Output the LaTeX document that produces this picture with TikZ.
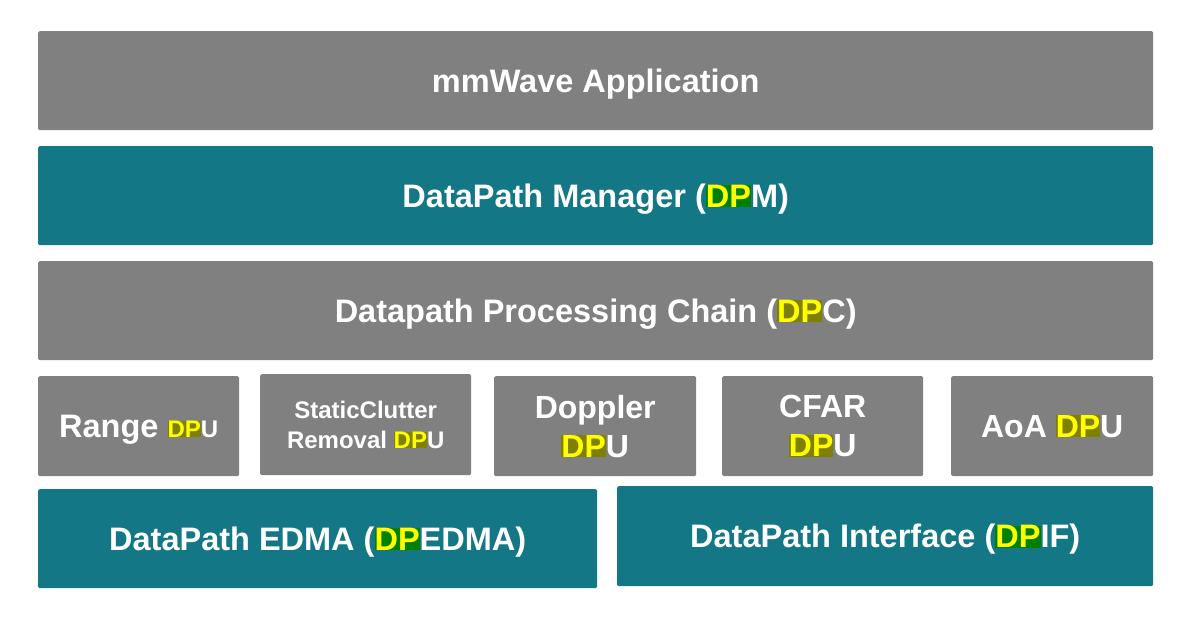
\documentclass[tikz,border=0pt]{standalone}
\usepackage{fontspec}
\setmainfont{Liberation Sans}
\usetikzlibrary{positioning}

\definecolor{layergray}{HTML}{808080}
\definecolor{layerteal}{HTML}{137786}
\definecolor{dpyellow}{HTML}{FFFF00}
\definecolor{dpgreen}{HTML}{008000}
\definecolor{dpolive}{HTML}{808000}

% highlighted "DP" on teal and on gray boxes
\newcommand{\dpT}{{\setlength{\fboxsep}{0pt}\colorbox{dpgreen}{\textcolor{dpyellow}{DP}}}}
\newcommand{\dpG}{{\setlength{\fboxsep}{0pt}\colorbox{dpolive}{\textcolor{dpyellow}{DP}}}}

\tikzset{
  layer/.style={draw=none, rounded corners=1.5pt, text=white, font=\bfseries\fontsize{32.5}{38}\selectfont,
    inner sep=0pt, anchor=north west, align=center},
  oneline/.style={text depth=0pt},
  graylayer/.style={layer, fill=layergray},
  teallayer/.style={layer, fill=layerteal},
}

\begin{document}
\begin{tikzpicture}[x=1pt,y=-1pt]
\useasboundingbox (0,0) rectangle (1183,643);

% top layers
\node[graylayer, oneline, minimum width=1115pt, minimum height=99pt] (app) at (38,31) {mmWave Application};
\node[teallayer, oneline, minimum width=1115pt, minimum height=99pt] (dpm) at (38,146) {DataPath Manager (\dpT M)};
\node[graylayer, oneline, minimum width=1115pt, minimum height=99pt] (dpc) at (38,261) {Datapath Processing Chain (\dpG C)};

% processing units
\node[graylayer, oneline, minimum width=201pt, minimum height=100pt] (range) at (38,376)
  {Range {\fontsize{24}{28}\selectfont\dpG U}};
\node[graylayer, minimum width=211pt, minimum height=101pt, font=\bfseries\fontsize{24}{30}\selectfont] (clutter) at (260,374)
  {StaticClutter\\Removal \dpG U};
\node[graylayer, minimum width=202pt, minimum height=100pt, font=\bfseries\fontsize{32}{39}\selectfont] (doppler) at (494,376)
  {Doppler\\\dpG U};
\node[graylayer, minimum width=201pt, minimum height=100pt, font=\bfseries\fontsize{32}{39}\selectfont] (cfar) at (722,376)
  {CFAR\\\dpG U};
\node[graylayer, oneline, minimum width=202pt, minimum height=100pt, font=\bfseries\fontsize{32}{38}\selectfont] (aoa) at (951,376) {AoA \dpG U};

% bottom layers
\node[teallayer, oneline, minimum width=559pt, minimum height=99pt] (edma) at (38,489) {DataPath EDMA (\dpT EDMA)};
\node[teallayer, oneline, minimum width=536pt, minimum height=100pt] (dpif) at (617,486) {DataPath Interface (\dpT IF)};
\end{tikzpicture}
\end{document}
